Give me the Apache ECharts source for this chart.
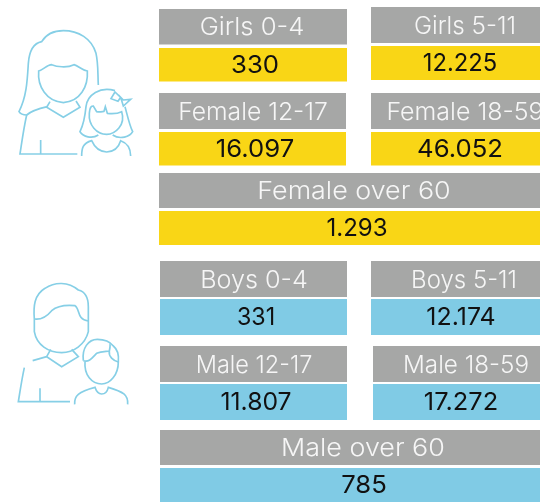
<!DOCTYPE html>
<html>
<head>
<meta charset="utf-8">
<style>html,body{margin:0;padding:0;background:#fff}#main{width:540px;height:502px}</style>
<script src="https://cdn.jsdelivr.net/npm/echarts@6/dist/echarts.min.js"></script>
</head>
<body>
<div id="main"></div>
<script>
// data
var categories = ['Girls 0-4', 'Girls 5-11', 'Female 12-17', 'Female 18-59', 'Female over 60',
    'Boys 0-4', 'Boys 5-11', 'Male 12-17', 'Male 18-59', 'Male over 60'];
var values = [330, 12225, 16097, 46052, 1293, 331, 12174, 11807, 17272, 785];

// tile layout: left, right, header top, header bottom, value top, value bottom, header text x, value text x
var tiles = [
    [159, 347, 9, 44.5, 48, 81.5, 252, 255],
    [371, 540, 7, 43, 46, 80, 465, 460],
    [159, 346, 93, 129, 132, 165.5, 253, 255],
    [371, 540, 93, 129, 132, 165.5, 465, 460],
    [159, 540, 173, 208, 211, 245, 354, 357],
    [160, 347, 261, 297, 299, 335, 254, 256],
    [371, 540, 261, 297, 299, 335, 464, 461],
    [160, 347, 346, 382, 384, 420, 254, 256],
    [373, 540, 346, 382, 384, 420, 466, 461],
    [160, 540, 430, 465, 468, 502, 363, 364]
];
// horizontal stretch per text, the original font is wider than Inter
var headerStretch = [1.07, 1.01, 1.03, 1.04, 1.12, 1.05, 1.0, 0.98, 1.01, 1.12];
var valueStretch = [1.07, 0.99, 1.07, 1.07, 1.0, 0.97, 1.04, 1.03, 1.06, 1.07];

var GREY = '#a6a7a6';
var YELLOW = '#f9d616';
var BLUE = '#80cbe5';
var ICON = '#86cfe6';
var FONT = 'Inter, "Open Sans", sans-serif';

// icons, in 3x units of the picture
var mother = [
    'M295 255 C293 220 295 190 288 160 C275 115 235 92 190 92 C160 92 140 100 125 125 C100 130 88 150 85 190 C82 240 80 290 57 335 C62 343 72 345 80 345 C95 332 120 325 142 320',
    'M116 213 C130 210 140 195 155 194 C170 200 200 205 222 194 C235 197 245 210 262 213 C265 260 240 305 190 308 C140 305 112 260 116 213 Z',
    'M150 305 L140 322 L190 352 L240 322 L228 303',
    'M80 345 C70 390 65 430 60 462 L232 462',
    'M122 420 L122 462'
];
var girl = [
    'M345 272 C300 258 262 285 258 320 C255 350 250 375 240 395 C250 410 275 418 295 405',
    'M375 320 C382 345 388 375 398 395 C390 410 360 420 338 405',
    'M268 340 C270 318 275 318 280 318 L290 335 C300 337 305 335 312 334 L316 320 L322 340 C340 342 355 340 365 335 C378 375 345 403 320 403 C290 403 265 375 268 340 Z',
    'M245 468 C245 445 248 430 275 422 C285 445 300 455 320 456 C340 455 355 445 362 422 C385 430 392 445 392 468',
    'M345 276 L333 296 L354 304 L362 292 Z M362 292 L370 318 L392 298 L370 300 Z'
];
var father = [
    'M103 147 C100 110 102 75 135 55 C165 35 205 35 235 60 C255 65 265 85 265 110 L265 185 C255 225 220 248 185 248 C145 248 110 225 103 185 Z',
    'M103 147 C125 150 140 140 155 122 C175 105 205 105 225 107 C240 115 230 150 265 153',
    'M152 238 L140 260 L185 290 L235 260 L215 238',
    'M140 260 L98 272 M73 293 C65 330 60 365 55 395 L210 395',
    'M120 355 L120 395'
];
var boy = [
    'M250 272 C245 235 265 208 292 208 C315 208 330 215 340 228 C355 240 357 255 355 275 C355 315 330 342 305 342 C275 342 252 315 255 275',
    'M250 272 C268 278 278 262 290 250 C305 243 320 245 328 243 C332 225 330 222 328 222 M328 243 C325 260 340 272 355 276',
    'M224 403 C222 378 235 365 285 352 C290 368 298 372 305 372 C315 372 322 365 325 352 C370 365 385 375 383 403'
];
var iconPaths = mother.concat(girl, father, boy);

// thousands are written with a dot in the source
function formatValue(v) {
    return String(v).replace(/\B(?=(\d{3})+$)/g, '.');
}

function renderTile(params, api) {
    var i = api.value(0);
    var t = tiles[i];
    var a = api.coord([t[0], t[2]]);
    var b = api.coord([t[1], t[3]]);
    var c = api.coord([t[0], t[4]]);
    var d = api.coord([t[1], t[5]]);
    var fill = i < 5 ? YELLOW : BLUE;
    return {
        type: 'group',
        children: [
            { type: 'rect', shape: { x: a[0], y: a[1], width: b[0] - a[0], height: b[1] - a[1] }, style: { fill: GREY } },
            { type: 'rect', shape: { x: c[0], y: c[1], width: d[0] - c[0], height: d[1] - c[1] }, style: { fill: fill } },
            {
                type: 'text',
                x: api.coord([t[6], 0])[0],
                y: (a[1] + b[1]) / 2 + 1.5,
                scaleX: headerStretch[i],
                style: {
                    x: 0, y: 0,
                    text: categories[i], fill: '#f6f6f6', align: 'center', verticalAlign: 'middle',
                    font: '300 24px ' + FONT
                }
            },
            {
                type: 'text',
                x: api.coord([t[7], 0])[0],
                y: (c[1] + d[1]) / 2 + 1,
                scaleX: valueStretch[i],
                style: {
                    x: 0, y: 0,
                    text: formatValue(values[i]), fill: '#111', align: 'center', verticalAlign: 'middle',
                    font: '400 24px ' + FONT
                }
            }
        ]
    };
}

function renderIcon(params, api) {
    var i = api.value(0);
    return {
        type: 'path',
        scaleX: 1 / 3,
        scaleY: 1 / 3,
        y: i >= mother.length + girl.length ? 270 : 0,
        shape: { pathData: iconPaths[i] },
        style: { fill: 'none', stroke: ICON, lineWidth: 5 }
    };
}

var myChart = echarts.init(document.getElementById('main'), null, { renderer: 'canvas' });
var option = {
    animation: false,
    grid: { left: 0, right: 0, top: 0, bottom: 0 },
    xAxis: { type: 'value', min: 0, max: 540, show: false },
    yAxis: { type: 'value', min: 0, max: 502, inverse: true, show: false },
    series: [
        {
            type: 'custom',
            coordinateSystem: 'cartesian2d',
            renderItem: renderIcon,
            silent: true,
            clip: false,
            data: iconPaths.map(function (p, i) { return [i]; })
        },
        {
            type: 'custom',
            coordinateSystem: 'cartesian2d',
            renderItem: renderTile,
            encode: { x: 1, y: 2 },
            silent: true,
            clip: true,
            data: categories.map(function (c, i) { return [i, tiles[i][0], tiles[i][2]]; })
        }
    ]
};
myChart.setOption(option);
</script>
</body>
</html>
